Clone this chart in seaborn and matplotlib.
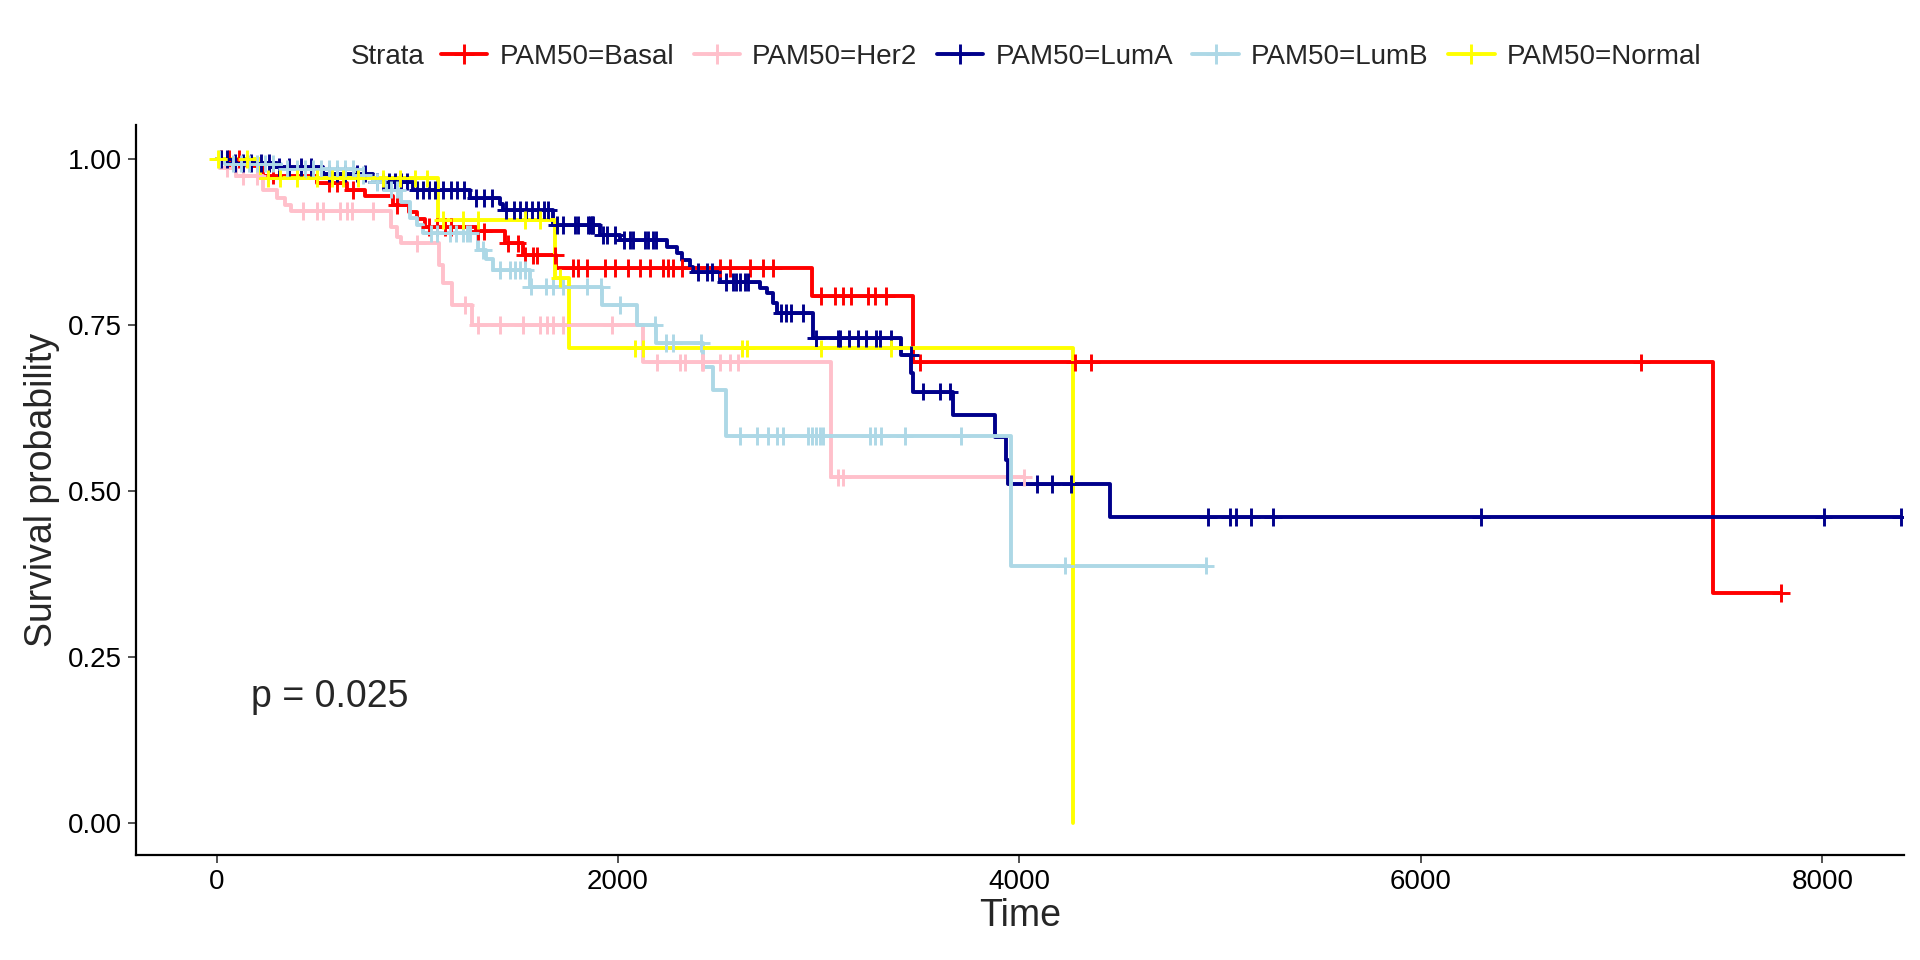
import numpy as np
import pandas as pd
import matplotlib
matplotlib.use('Agg')
import matplotlib.pyplot as plt
from matplotlib.lines import Line2D
import seaborn as sns

# Kaplan-Meier step curves: step times, survival after step, last follow-up
basal_time = [0, 150, 230, 500, 650, 740, 880, 960, 1000, 1040, 1290, 1435, 1525, 1693, 2965, 3470, 7457]
basal_surv = [1.0, 0.99, 0.975, 0.964, 0.953, 0.944, 0.931, 0.92, 0.91, 0.898, 0.891, 0.873, 0.855, 0.836, 0.794, 0.694, 0.347]
basal_end = 7793
basal_cens = [20, 60, 110, 280, 560, 600, 680, 900, 1060, 1100, 1140, 1170, 1300, 1330, 1450, 1500,
              1536, 1576, 1596, 1686, 1776, 1800, 1845, 1934, 1984, 2049, 2109, 2158, 2224, 2249, 2274,
              2319, 2508, 2558, 2657, 2722, 2772, 3013, 3079, 3120, 3162, 3245, 3279, 3337, 3502, 4275,
              4357, 7098, 7793]

her2_time = [0, 20, 95, 230, 300, 340, 370, 870, 900, 920, 1110, 1130, 1172, 1270, 2125, 3060]
her2_surv = [1.0, 0.986, 0.974, 0.954, 0.941, 0.931, 0.922, 0.898, 0.883, 0.873, 0.840, 0.813, 0.780, 0.750, 0.694, 0.521]
her2_end = 4020
her2_cens = [50, 130, 200, 430, 500, 530, 614, 649, 674, 778, 1000, 1237, 1301, 1410, 1527, 1611, 1645,
             1675, 1725, 1969, 2193, 2307, 2332, 2417, 2422, 2507, 2557, 2597, 3094, 3119, 4020]

luma_time = [0, 80, 300, 530, 780, 980, 1260, 1410, 1427, 1676, 1909, 2008, 2242, 2292, 2320, 2357, 2373,
             2508, 2706, 2740, 2772, 2790, 2971, 3411, 3460, 3470, 3668, 3876, 3934, 3945, 4451]
luma_surv = [1.0, 0.994, 0.988, 0.978, 0.966, 0.953, 0.941, 0.933, 0.923, 0.901, 0.886, 0.878, 0.868, 0.858,
             0.848, 0.838, 0.830, 0.815, 0.806, 0.798, 0.783, 0.768, 0.730, 0.705, 0.678, 0.650, 0.615, 0.582,
             0.547, 0.511, 0.461]
luma_end = 8390
luma_cens = [20, 50, 90, 130, 170, 220, 260, 310, 360, 420, 470, 560, 600, 640, 700, 740, 800, 830, 860,
             890, 920, 950, 1000, 1030, 1060, 1090, 1130, 1170, 1200, 1230, 1290, 1330, 1370, 1440, 1480,
             1510, 1540, 1570, 1600, 1630, 1650, 1694, 1725, 1784, 1800, 1850, 1859, 1868, 1875, 1924,
             1944, 1984, 2030, 2058, 2075, 2133, 2150, 2174, 2191, 2397, 2442, 2467, 2539, 2572, 2589,
             2606, 2631, 2647, 2814, 2838, 2863, 2921, 2987, 3095, 3104, 3153, 3195, 3237, 3287, 3303,
             3362, 3457, 3518, 3602, 3652, 4085, 4160, 4255, 4939, 5049, 5079, 5152, 5262, 6299, 8006, 8390]

lumb_time = [0, 40, 320, 700, 780, 848, 920, 963, 1000, 1030, 1300, 1340, 1375, 1560, 1920, 2095, 2191,
             2423, 2473, 2540, 3958]
lumb_surv = [1.0, 0.993, 0.985, 0.976, 0.965, 0.954, 0.935, 0.911, 0.901, 0.888, 0.863, 0.849, 0.833, 0.808,
             0.780, 0.750, 0.723, 0.687, 0.652, 0.583, 0.388]
lumb_end = 4927
lumb_cens = [10, 80, 120, 160, 200, 240, 280, 350, 400, 440, 480, 520, 560, 600, 640, 680, 730, 800, 870,
             900, 1070, 1100, 1162, 1195, 1228, 1245, 1261, 1327, 1411, 1461, 1486, 1510, 1535, 1565, 1643,
             1676, 1726, 1843, 1917, 2008, 2182, 2241, 2274, 2415, 2610, 2690, 2745, 2790, 2823, 2945,
             2965, 2985, 3005, 3020, 3253, 3278, 3312, 3428, 3709, 4226, 4927]

normal_time = [0, 215, 1104, 1685, 1756, 4266]
normal_surv = [1.0, 0.971, 0.908, 0.821, 0.715, 0.0]
normal_end = 4266
normal_cens = [7, 150, 256, 316, 399, 500, 574, 630, 704, 829, 913, 988, 1046, 1127, 1227, 1302, 1536,
               1611, 1710, 2083, 2125, 2615, 2640, 3013, 3362]

strata = ['PAM50=Basal', 'PAM50=Her2', 'PAM50=LumA', 'PAM50=LumB', 'PAM50=Normal']
colors = ['#FF0000', '#FFC0CB', '#00008B', '#ADD8E6', '#FFFF00']
pval_text = 'p = 0.025'

groups = [
    (basal_time, basal_surv, basal_end, basal_cens),
    (her2_time, her2_surv, her2_end, her2_cens),
    (luma_time, luma_surv, luma_end, luma_cens),
    (lumb_time, lumb_surv, lumb_end, lumb_cens),
    (normal_time, normal_surv, normal_end, normal_cens),
]

curve_rows = []
cens_rows = []
for name, (t, s, end, cens) in zip(strata, groups):
    for ti, si in zip(t, s):
        curve_rows.append((ti, si, name))
    if end > t[-1]:
        curve_rows.append((end, s[-1], name))
    t_arr = np.array(t)
    for c in cens:
        idx = np.searchsorted(t_arr, c, side='right') - 1
        cens_rows.append((c, s[idx], name))

curves = pd.DataFrame(curve_rows, columns=['time', 'surv', 'strata'])
censored = pd.DataFrame(cens_rows, columns=['time', 'surv', 'strata'])

sns.set_style('white')
plt.rcParams['font.family'] = ['Liberation Sans', 'DejaVu Sans']

fig = plt.figure(figsize=(19.2, 9.6), dpi=100)
ax = fig.add_axes([0.0708, 0.109, 0.921, 0.761])

palette = dict(zip(strata, colors))
sns.lineplot(data=curves, x='time', y='surv', hue='strata', hue_order=strata, palette=palette,
             estimator=None, sort=False, drawstyle='steps-post', linewidth=2.8, legend=False, ax=ax)
sns.scatterplot(data=censored, x='time', y='surv', hue='strata', hue_order=strata, palette=palette,
                marker='+', s=160, linewidth=2.1, legend=False, ax=ax, zorder=5)

ax.set_xlim(-402, 8408)
ax.set_ylim(-0.048, 1.0515)
ax.set_xticks([0, 2000, 4000, 6000, 8000])
ax.set_yticks([0, 0.25, 0.5, 0.75, 1.0])
ax.set_yticklabels(['0.00', '0.25', '0.50', '0.75', '1.00'])
ax.tick_params(axis='both', labelsize=20, length=6, width=1.2, color='#333333', labelcolor='black',
               direction='out', bottom=True, left=True, pad=4)
for side in ['top', 'right']:
    ax.spines[side].set_visible(False)
for side in ['left', 'bottom']:
    ax.spines[side].set_color('black')
    ax.spines[side].set_linewidth(1.6)

ax.set_xlabel('Time', fontsize=27, labelpad=2)
ax.set_ylabel('Survival probability', fontsize=27, labelpad=6)
ax.text(170, 0.19, pval_text, fontsize=27, ha='left', va='center')

handles = [Line2D([], [], color=c, linewidth=2.8, marker='+', markersize=14, markeredgewidth=2.1)
           for c in colors]
fig.legend(handles, strata, loc='center left', bbox_to_anchor=(0.2296, 0.941), ncol=5, frameon=False,
           fontsize=20, handlelength=1.67, handletextpad=0.44, columnspacing=0.7,
           borderpad=0, borderaxespad=0)
fig.text(0.2213, 0.941, 'Strata', fontsize=20, ha='right', va='center')

fig.savefig('out.png', dpi=100)
